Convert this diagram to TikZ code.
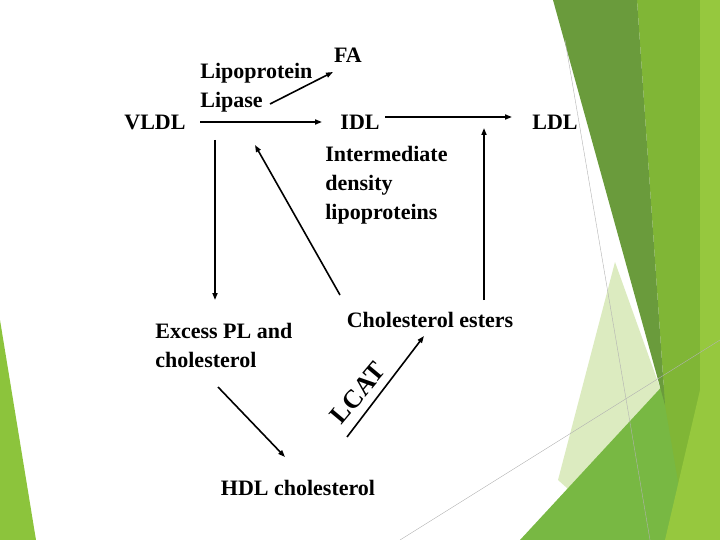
\documentclass[tikz,border=0pt]{standalone}
\usepackage{fontspec}
\setmainfont{Liberation Serif}
\usetikzlibrary{arrows.meta}
\tikzset{every picture/.style={line width=0.75pt}}
\tikzset{
  lbl/.style={font=\fontsize{22}{29}\selectfont\bfseries, inner sep=0pt},
  flow/.style={line width=1.6pt, -{Triangle[length=7pt,width=5pt]}}
}
\begin{document}
\begin{tikzpicture}[x=1pt,y=1pt,yscale=-1]
\useasboundingbox (0,0) rectangle (720,540);
%Facet background
\fill [color={rgb,255:red,220;green,235;blue,192}] (558,480) -- (615,262) -- (668,410) -- (625,540) -- cycle ;
\fill [color={rgb,255:red,120;green,184;blue,67}] (520,540) -- (668,380) -- (700,540) -- cycle ;
\fill [color={rgb,255:red,128;green,182;blue,54}] (637,0) -- (720,0) -- (720,540) -- (688,540) -- (665,405) -- cycle ;
\fill [color={rgb,255:red,150;green,200;blue,62}] (700,0) -- (720,0) -- (720,540) -- (665,540) -- (700,390) -- cycle ;
\fill [color={rgb,255:red,106;green,155;blue,60}] (553,0) -- (637,0) -- (665,405) -- cycle ;
\fill [color={rgb,255:red,140;green,196;blue,60}] (0,320) -- (36,540) -- (0,540) -- cycle ;
\draw [line width=0.4pt, color=gray!60] (565,40) -- (650,540) ;
\draw [line width=0.4pt, color=gray!60] (400,540) -- (720,340) ;

%Text nodes
\node [lbl] (vldl) at (155,122) {VLDL};
\node [lbl, align=left, anchor=west] (lpl) at (200,88) {Lipoprotein\\Lipase};
\node [lbl] (fa) at (348,55) {FA};
\node [lbl] (idl) at (360,122) {IDL};
\node [lbl] (ldl) at (555,122) {LDL};
\node [lbl, align=left, anchor=north west] (idlname) at (325,146) {Intermediate\\density\\lipoproteins};
\node [lbl, align=left, anchor=west] (excess) at (155,345) {Excess PL and\\cholesterol};
\node [lbl] (ester) at (430,320) {Cholesterol esters};
\node [lbl] (hdl) at (298,488) {HDL cholesterol};
\node [font=\fontsize{26}{26}\selectfont\bfseries, rotate=50, inner sep=0pt] (lcat) at (358,393) {LCAT};

%Connector ends
\coordinate (c1) at (270,104); \coordinate (c2) at (333,72);
\coordinate (c3) at (200,122); \coordinate (c4) at (322,122);
\coordinate (c5) at (385,117); \coordinate (c6) at (512,117);
\coordinate (c7) at (215,140); \coordinate (c8) at (215,300);
\coordinate (c9) at (340,295); \coordinate (c10) at (255,145);
\coordinate (c11) at (484,300); \coordinate (c12) at (484,128);
\coordinate (c13) at (218,387); \coordinate (c14) at (285,457);
\coordinate (c15) at (347,437); \coordinate (c16) at (424,336);

\draw [flow] (c1) -- (c2) ;
\draw [flow] (c3) -- (c4) ;
\draw [flow] (c5) -- (c6) ;
\draw [flow] (c7) -- (c8) ;
\draw [flow] (c9) -- (c10) ;
\draw [flow] (c11) -- (c12) ;
\draw [flow] (c13) -- (c14) ;
\draw [flow] (c15) -- (c16) ;
\end{tikzpicture}
\end{document}
